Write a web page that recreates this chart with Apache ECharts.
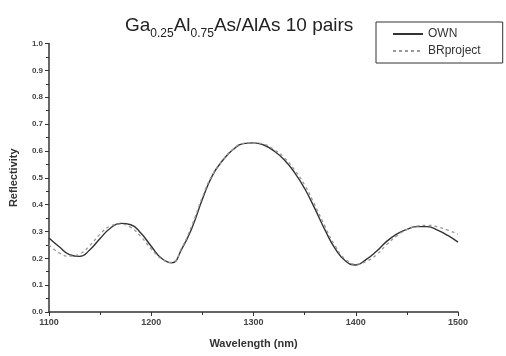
<!DOCTYPE html>
<html>
<head>
<meta charset="utf-8">
<script src="https://cdn.jsdelivr.net/npm/echarts@6/dist/echarts.min.js"></script>
<style>
  html, body { margin: 0; padding: 0; background: #fff; }
  #chart { width: 506px; height: 356px; }
</style>
</head>
<body>
<div id="chart"></div>
<script>
// wavelength samples (nm)
var wavelength = [1100, 1110, 1120, 1130, 1140, 1150, 1160, 1170, 1180, 1190,
                  1200, 1210, 1220, 1230, 1240, 1250, 1260, 1270, 1280, 1290,
                  1300, 1310, 1320, 1330, 1340, 1350, 1360, 1370, 1380, 1390,
                  1400, 1410, 1420, 1430, 1440, 1450, 1460, 1470, 1480, 1490, 1500];

// reflectivity
var ownValues = [0.276, 0.243, 0.214, 0.207, 0.232, 0.274, 0.312, 0.330, 0.325, 0.293,
                 0.245, 0.200, 0.183, 0.236, 0.315, 0.420, 0.510, 0.565, 0.605, 0.627,
                 0.630, 0.622, 0.600, 0.567, 0.520, 0.460, 0.385, 0.305, 0.235, 0.190,
                 0.175, 0.195, 0.225, 0.262, 0.290, 0.308, 0.318, 0.318, 0.305, 0.285, 0.260];

var brValues = [0.250, 0.220, 0.208, 0.216, 0.248, 0.290, 0.320, 0.327, 0.315, 0.280,
                0.235, 0.198, 0.185, 0.240, 0.325, 0.428, 0.512, 0.566, 0.606, 0.628,
                0.630, 0.625, 0.605, 0.575, 0.530, 0.473, 0.398, 0.318, 0.245, 0.196,
                0.178, 0.188, 0.212, 0.250, 0.283, 0.307, 0.320, 0.323, 0.317, 0.305, 0.290];

var seriesNames = ['OWN', 'BRproject'];

function pairs(xs, ys) {
  var out = [];
  for (var i = 0; i < xs.length; i++) out.push([xs[i], ys[i]]);
  return out;
}

var chart = echarts.init(document.getElementById('chart'));
var font = 'Liberation Sans, Arial, sans-serif';

chart.setOption({
  backgroundColor: '#fff',
  animation: false,
  title: {
    text: '{a|Ga}{s|0.25}{a|Al}{s|0.75}{a|As/AlAs 10 pairs}',
    left: 120,
    top: 6,
    textStyle: {
      fontWeight: 'normal',
      rich: {
        a: { fontFamily: font, fontSize: 19, fontWeight: 'normal', color: '#222', verticalAlign: 'bottom', lineHeight: 24 },
        s: { fontFamily: font, fontSize: 12, fontWeight: 'normal', color: '#222', verticalAlign: 'bottom', lineHeight: 15, padding: [0, 0, -5, 0] }
      }
    }
  },
  legend: {
    orient: 'vertical',
    left: 376,
    top: 22,
    width: 126,
    padding: [6, 22, 6, 16],
    itemGap: 5,
    itemWidth: 30,
    itemHeight: 12,
    borderColor: '#333',
    borderWidth: 1,
    itemStyle: { opacity: 0 },
    textStyle: { fontFamily: font, fontSize: 12, color: '#333' },
    data: seriesNames
  },
  grid: { left: 47.5, right: 48, top: 43.5, bottom: 44, containLabel: false },
  xAxis: {
    type: 'value',
    min: 1100,
    max: 1500,
    interval: 100,
    name: 'Wavelength (nm)',
    nameLocation: 'middle',
    nameGap: 26,
    nameTextStyle: { fontFamily: font, fontSize: 11, fontWeight: 'bold', color: '#333' },
    axisLine: { lineStyle: { color: '#333', width: 1.5 } },
    axisTick: { length: 4, lineStyle: { color: '#333' } },
    minorTick: { show: true, splitNumber: 2, length: 3, lineStyle: { color: '#333' } },
    axisLabel: {
      fontFamily: font, fontSize: 9, fontWeight: 'bold', color: '#444', margin: 6,
      formatter: function (v) { return String(v); }
    },
    splitLine: { show: false }
  },
  yAxis: {
    type: 'value',
    min: 0,
    max: 1,
    interval: 0.1,
    name: 'Reflectivity',
    nameLocation: 'middle',
    nameGap: 30,
    nameTextStyle: { fontFamily: font, fontSize: 11, fontWeight: 'bold', color: '#333' },
    axisLine: { show: true, lineStyle: { color: '#333', width: 1.5 } },
    axisTick: { show: true, length: 4, lineStyle: { color: '#333' } },
    minorTick: { show: true, splitNumber: 2, length: 3, lineStyle: { color: '#333' } },
    axisLabel: {
      fontFamily: font, fontSize: 8, fontWeight: 'bold', color: '#444', margin: 6,
      formatter: function (v) { return v.toFixed(1); }
    },
    splitLine: { show: false }
  },
  series: [
    {
      name: seriesNames[0],
      type: 'line',
      smooth: true,
      symbol: 'none',
      lineStyle: { color: '#333', width: 1.4 },
      itemStyle: { color: '#333' },
      data: pairs(wavelength, ownValues)
    },
    {
      name: seriesNames[1],
      type: 'line',
      smooth: true,
      symbol: 'none',
      lineStyle: { color: '#999', width: 1.3, type: [3, 3] },
      itemStyle: { color: '#999' },
      data: pairs(wavelength, brValues)
    }
  ]
});
</script>
</body>
</html>
